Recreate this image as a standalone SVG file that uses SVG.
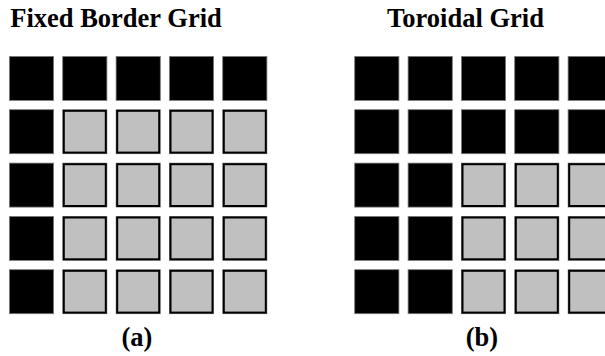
<svg xmlns="http://www.w3.org/2000/svg" width="605" height="356" viewBox="0 0 605 356">
<defs>
<style>
.t{font-weight:bold;font-size:26.5px;fill:#000;text-anchor:middle}
.b{fill:#000;stroke:#7a7a7a;stroke-width:0.8}
.go{fill:#8a8a8a}
.g{fill:#c0c0c0;stroke:#000;stroke-width:2}
</style>
<symbol id="blk" overflow="visible"><rect class="b" x="0.4" y="0.4" width="44.2" height="44" /></symbol>
<symbol id="gry" overflow="visible"><rect class="go" x="0" y="0" width="45" height="44.8"/><rect class="g" x="1.5" y="1.5" width="42" height="41.8"/></symbol>
</defs>
<rect width="605" height="356" fill="#fff"/>
<g font-family="Liberation Serif, Times New Roman, serif">
<text class="t" x="116" y="27">Fixed Border Grid</text>
<text class="t" x="465.5" y="27">Toroidal Grid</text>
<text class="t" x="137" y="346">(a)</text>
<text class="t" x="482" y="346">(b)</text>
</g>
<g id="gridA">
<g id="a00"><use href="#blk" x="9" y="56"/></g>
<g id="a01"><use href="#blk" x="62.3" y="56"/></g>
<g id="a02"><use href="#blk" x="115.7" y="56"/></g>
<g id="a03"><use href="#blk" x="169" y="56"/></g>
<g id="a04"><use href="#blk" x="222.3" y="56"/></g>
<g id="a10"><use href="#blk" x="9" y="109.3"/></g>
<g id="a11"><use href="#gry" x="62.3" y="109.3"/></g>
<g id="a12"><use href="#gry" x="115.7" y="109.3"/></g>
<g id="a13"><use href="#gry" x="169" y="109.3"/></g>
<g id="a14"><use href="#gry" x="222.3" y="109.3"/></g>
<g id="a20"><use href="#blk" x="9" y="162.7"/></g>
<g id="a21"><use href="#gry" x="62.3" y="162.7"/></g>
<g id="a22"><use href="#gry" x="115.7" y="162.7"/></g>
<g id="a23"><use href="#gry" x="169" y="162.7"/></g>
<g id="a24"><use href="#gry" x="222.3" y="162.7"/></g>
<g id="a30"><use href="#blk" x="9" y="216"/></g>
<g id="a31"><use href="#gry" x="62.3" y="216"/></g>
<g id="a32"><use href="#gry" x="115.7" y="216"/></g>
<g id="a33"><use href="#gry" x="169" y="216"/></g>
<g id="a34"><use href="#gry" x="222.3" y="216"/></g>
<g id="a40"><use href="#blk" x="9" y="269.3"/></g>
<g id="a41"><use href="#gry" x="62.3" y="269.3"/></g>
<g id="a42"><use href="#gry" x="115.7" y="269.3"/></g>
<g id="a43"><use href="#gry" x="169" y="269.3"/></g>
<g id="a44"><use href="#gry" x="222.3" y="269.3"/></g>
</g>
<g id="gridB">
<g id="b00"><use href="#blk" x="354.3" y="56"/></g>
<g id="b01"><use href="#blk" x="407.7" y="56"/></g>
<g id="b02"><use href="#blk" x="461" y="56"/></g>
<g id="b03"><use href="#blk" x="514.3" y="56"/></g>
<g id="b04"><use href="#blk" x="567.7" y="56"/></g>
<g id="b10"><use href="#blk" x="354.3" y="109.3"/></g>
<g id="b11"><use href="#blk" x="407.7" y="109.3"/></g>
<g id="b12"><use href="#blk" x="461" y="109.3"/></g>
<g id="b13"><use href="#blk" x="514.3" y="109.3"/></g>
<g id="b14"><use href="#blk" x="567.7" y="109.3"/></g>
<g id="b20"><use href="#blk" x="354.3" y="162.7"/></g>
<g id="b21"><use href="#blk" x="407.7" y="162.7"/></g>
<g id="b22"><use href="#gry" x="461" y="162.7"/></g>
<g id="b23"><use href="#gry" x="514.3" y="162.7"/></g>
<g id="b24"><use href="#gry" x="567.7" y="162.7"/></g>
<g id="b30"><use href="#blk" x="354.3" y="216"/></g>
<g id="b31"><use href="#blk" x="407.7" y="216"/></g>
<g id="b32"><use href="#gry" x="461" y="216"/></g>
<g id="b33"><use href="#gry" x="514.3" y="216"/></g>
<g id="b34"><use href="#gry" x="567.7" y="216"/></g>
<g id="b40"><use href="#blk" x="354.3" y="269.3"/></g>
<g id="b41"><use href="#blk" x="407.7" y="269.3"/></g>
<g id="b42"><use href="#gry" x="461" y="269.3"/></g>
<g id="b43"><use href="#gry" x="514.3" y="269.3"/></g>
<g id="b44"><use href="#gry" x="567.7" y="269.3"/></g>
</g>
<g id="connectors"/>
</svg>
